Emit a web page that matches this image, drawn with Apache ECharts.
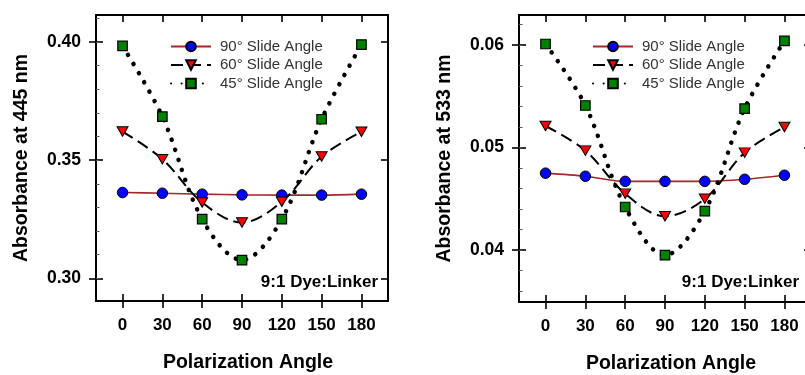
<!DOCTYPE html>
<html>
<head>
<meta charset="utf-8">
<script src="https://cdn.jsdelivr.net/npm/echarts@6/dist/echarts.min.js"></script>
<style>
  html, body { margin: 0; padding: 0; background: #fff; }
  #chart { width: 805px; height: 375px; }
</style>
</head>
<body>
<div id="chart"></div>
<script>
// Polarization angles (degrees)
const angles = [0, 30, 60, 90, 120, 150, 180];
const seriesNames = ['90° Slide Angle', '60° Slide Angle', '45° Slide Angle'];

// Absorbance at 445 nm
const abs445Slide90 = [0.3363, 0.3360, 0.3356, 0.3353, 0.3352, 0.3352, 0.3356];
const abs445Slide60 = [0.3621, 0.3504, 0.3321, 0.3236, 0.3324, 0.3515, 0.3620];
const abs445Slide45 = [0.3983, 0.3684, 0.3250, 0.3077, 0.3250, 0.3673, 0.3989];

// Absorbance at 533 nm
const abs533Slide90 = [0.0475, 0.0472, 0.0467, 0.0467, 0.0467, 0.0469, 0.0473];
const abs533Slide60 = [0.0521, 0.0497, 0.0455, 0.0433, 0.0450, 0.0495, 0.0520];
const abs533Slide45 = [0.0601, 0.0541, 0.0442, 0.0395, 0.0438, 0.0538, 0.0604];

// Tick labels
const xTickValues = [0, 30, 60, 90, 120, 150, 180];
const yTicks445 = [0.30, 0.35, 0.40];
const yTicks533 = [0.04, 0.05, 0.06];
const sampleLabel = '9:1 Dye:Linker';

const FONT = '"Liberation Sans", Arial, Helvetica, sans-serif';

function steps(from, to, step) {
  const out = [];
  const n = Math.round((to - from) / step);
  for (let i = 0; i <= n; i++) out.push(Math.round((from + i * step) * 1e5) / 1e5);
  return out;
}

const panels = [
  {
    grid: { left: 96, top: 15, width: 292, height: 286 },
    yMin: 0.2904, yMax: 0.4114, yTicks: yTicks445,
    yMinor: steps(0.30, 0.41, 0.01), digits: 2,
    yName: 'Absorbance at 445 nm',
    values: [abs445Slide90, abs445Slide60, abs445Slide45]
  },
  {
    grid: { left: 519, top: 15, width: 292, height: 287 },
    yMin: 0.03493, yMax: 0.06293, yTicks: yTicks533,
    yMinor: steps(0.036, 0.062, 0.002), digits: 2,
    yName: 'Absorbance at 533 nm',
    values: [abs533Slide90, abs533Slide60, abs533Slide45]
  }
];

const black = '#000';
const grids = [], xAxes = [], yAxes = [], series = [];

panels.forEach((p, gi) => {
  grids.push(Object.assign({ containLabel: false, outerBoundsMode: 'none' }, p.grid));

  const xBase = {
    type: 'value', gridIndex: gi, min: -20, max: 200,
    splitLine: { show: false }, minorTick: { show: false },
    axisLine: { show: false, onZero: false }
  };
  const xMain = xAxes.length;
  // bottom axis: outward ticks, labels and title
  xAxes.push(Object.assign({}, xBase, {
    position: 'bottom',
    axisLine: { show: true, onZero: false, lineStyle: { color: black, width: 2 } },
    axisTick: { show: true, inside: false, length: 7, customValues: xTickValues, lineStyle: { color: black, width: 1.6 } },
    axisLabel: { show: true, customValues: xTickValues, margin: 16, color: black, fontFamily: FONT, fontWeight: 'bold', fontSize: 17 },
    name: 'Polarization Angle', nameLocation: 'middle', nameGap: 52, nameMoveOverlap: false,
    nameTextStyle: { color: black, fontFamily: FONT, fontWeight: 'bold', fontSize: 19.5, padding: [0, 0, 0, 12] }
  }));
  // bottom axis: inward half of the crossing ticks
  xAxes.push(Object.assign({}, xBase, {
    position: 'bottom',
    axisTick: { show: true, inside: true, length: 7, customValues: xTickValues, lineStyle: { color: black, width: 1.6 } },
    axisLabel: { show: false }
  }));
  // top frame edge
  xAxes.push(Object.assign({}, xBase, {
    position: 'top',
    axisLine: { show: true, onZero: false, lineStyle: { color: black, width: 2 } },
    axisTick: { show: true, inside: true, length: 7, customValues: xTickValues, lineStyle: { color: black, width: 1.6 } },
    axisLabel: { show: false }
  }));

  const yBase = {
    type: 'value', gridIndex: gi, min: p.yMin, max: p.yMax,
    splitLine: { show: false }, minorTick: { show: false },
    axisLine: { show: false, onZero: false }
  };
  const yMain = yAxes.length;
  yAxes.push(Object.assign({}, yBase, {
    position: 'left',
    axisLine: { show: true, onZero: false, lineStyle: { color: black, width: 2 } },
    axisTick: { show: true, inside: false, length: 7, customValues: p.yTicks, lineStyle: { color: black, width: 1.6 } },
    axisLabel: {
      show: true, customValues: p.yTicks, margin: 15, color: black,
      fontFamily: FONT, fontWeight: 'bold', fontSize: 17.5,
      formatter: v => v.toFixed(p.digits)
    },
    name: p.yName, nameLocation: 'middle', nameGap: 64, nameMoveOverlap: false,
    nameTextStyle: { color: black, fontFamily: FONT, fontWeight: 'bold', fontSize: 19.5 }
  }));
  yAxes.push(Object.assign({}, yBase, {
    position: 'left',
    axisTick: { show: true, inside: true, length: 7, customValues: p.yTicks, lineStyle: { color: black, width: 1.6 } },
    axisLabel: { show: false }
  }));
  yAxes.push(Object.assign({}, yBase, {
    position: 'left',
    axisTick: { show: true, inside: true, length: 3.5, customValues: p.yMinor, lineStyle: { color: '#555', width: 1 } },
    axisLabel: { show: false }
  }));
  yAxes.push(Object.assign({}, yBase, {
    position: 'right',
    axisLine: { show: true, onZero: false, lineStyle: { color: black, width: 2 } },
    axisTick: { show: true, inside: true, length: 7, customValues: p.yTicks, lineStyle: { color: black, width: 1.6 } },
    axisLabel: { show: false }
  }));

  const pairs = vals => angles.map((a, i) => [a, vals[i]]);
  series.push({
    type: 'line', name: seriesNames[0], xAxisIndex: xMain, yAxisIndex: yMain,
    data: pairs(p.values[0]), smooth: 0.3,
    color: '#0000ff',
    lineStyle: { color: '#9e2a2a', width: 1.6 },
    symbol: 'circle', symbolSize: 10.5,
    itemStyle: { color: '#0000ff', borderColor: black, borderWidth: 1 }
  });
  series.push({
    type: 'line', name: seriesNames[1], xAxisIndex: xMain, yAxisIndex: yMain,
    data: pairs(p.values[1]), smooth: 0.35,
    color: '#ff0000',
    lineStyle: { color: black, width: 2, type: [12, 6] },
    symbol: 'triangle', symbolRotate: 180, symbolSize: [11, 9.5],
    itemStyle: { color: '#ff0000', borderColor: black, borderWidth: 1 }
  });
  series.push({
    type: 'line', name: seriesNames[2], xAxisIndex: xMain, yAxisIndex: yMain,
    data: pairs(p.values[2]), smooth: 0.35,
    color: '#008000',
    lineStyle: { color: black, width: 4.5, type: [0.1, 10.5], cap: 'round' },
    symbol: 'rect', symbolSize: 9.5,
    itemStyle: { color: '#008000', borderColor: black, borderWidth: 1.2 }
  });
});

const legendBase = {
  orient: 'vertical', top: 34, itemWidth: 40, itemHeight: 12, itemGap: 3.5,
  selectedMode: false, data: seriesNames,
  textStyle: { color: '#333', fontFamily: FONT, fontSize: 15, padding: [0, 0, 0, 4] }
};

const chart = echarts.init(document.getElementById('chart'), null, { renderer: 'canvas' });
chart.setOption({
  animation: false,
  backgroundColor: '#fff',
  grid: grids,
  xAxis: xAxes,
  yAxis: yAxes,
  legend: [
    Object.assign({}, legendBase, { left: 165 }),
    Object.assign({}, legendBase, { left: 587 })
  ],
  graphic: [
    { type: 'text', x: 378, y: 282, style: { text: sampleLabel, align: 'right', verticalAlign: 'middle', fill: black, font: 'bold 17px ' + FONT } },
    { type: 'text', x: 799, y: 282, style: { text: sampleLabel, align: 'right', verticalAlign: 'middle', fill: black, font: 'bold 17px ' + FONT } }
  ],
  series: series
});
</script>
</body>
</html>
